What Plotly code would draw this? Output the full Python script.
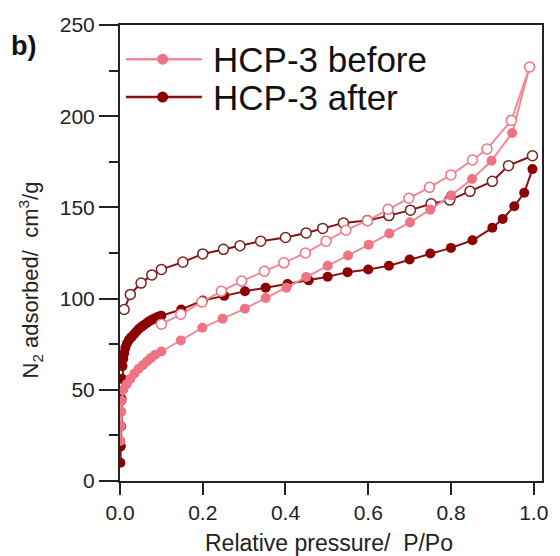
import plotly.graph_objects as go

# ---------------- data ----------------
before_ads_x = [0.001, 0.002, 0.003, 0.004, 0.008, 0.016, 0.025, 0.035, 0.045, 0.055, 0.065,
                0.075, 0.085, 0.1, 0.147, 0.199, 0.248, 0.302, 0.352, 0.402, 0.45, 0.502,
                0.551, 0.601, 0.651, 0.701, 0.75, 0.8, 0.851, 0.898, 0.948, 0.99]
before_ads_y = [22, 30, 38, 44, 50, 53, 56, 59, 61.5, 63.5, 65.5, 67.5, 69.2, 71, 77, 84, 89,
                94.5, 100.3, 106, 111.8, 118, 123.6, 129.5, 135.7, 141.8, 148.8, 156.6, 165.6,
                175.6, 190.8, 227]

before_des_x = [0.99, 0.946, 0.887, 0.852, 0.8, 0.748, 0.698, 0.648, 0.598, 0.546, 0.498,
                0.448, 0.396, 0.349, 0.294, 0.245, 0.198, 0.147, 0.1]
before_des_y = [227, 197.7, 182, 176, 167.8, 161, 155, 149, 142.7, 137.5, 131.5, 125, 119.6,
                115, 109.6, 104, 98.2, 91.4, 86]

after_ads_x = [0.001, 0.002, 0.003, 0.004, 0.005, 0.006, 0.008, 0.01, 0.013, 0.017, 0.022,
               0.028, 0.034, 0.04, 0.046, 0.052, 0.058, 0.064, 0.07, 0.076, 0.082, 0.088,
               0.094, 0.1, 0.148, 0.2, 0.252, 0.302, 0.352, 0.405, 0.456, 0.502, 0.55, 0.6,
               0.65, 0.7, 0.75, 0.8, 0.852, 0.9, 0.925, 0.953, 0.977, 0.997]
after_ads_y = [10, 19, 30, 45, 56, 63, 67, 70, 73, 75.5, 77.5, 79, 80.5, 82, 83.5, 84.5, 85.5,
               86.5, 87.5, 88.3, 89, 89.6, 90.2, 90.6, 94, 99, 101.5, 104, 106, 108, 110, 112,
               114.5, 116, 118, 121.4, 124.7, 127.8, 132, 138.8, 143.7, 150.6, 158, 171]

after_des_x = [0.997, 0.939, 0.9, 0.846, 0.797, 0.752, 0.702, 0.65, 0.598, 0.54, 0.49, 0.45,
               0.4, 0.34, 0.29, 0.25, 0.2, 0.152, 0.1, 0.077, 0.051, 0.025, 0.01]
after_des_y = [178.3, 172.9, 164.3, 158.8, 154, 152, 148.5, 145.5, 142.8, 141.5, 138.5, 136,
               133.5, 131.5, 129, 127, 124.5, 120, 116, 113, 108.5, 102.3, 94]

series_names = ["HCP-3 before", "HCP-3 after"]
x_ticks = [0.0, 0.2, 0.4, 0.6, 0.8, 1.0]
x_tick_labels = ["0.0", "0.2", "0.4", "0.6", "0.8", "1.0"]
y_ticks = [0, 50, 100, 150, 200, 250]

# ---------------- styles ----------------
PINK = "#EE7383"
PINK_LINE = "#F08A98"
DARK = "#8B0000"
DARK_LINE = "#8B1010"
FONT = "Liberation Sans, Arial, sans-serif"
MS = 10

fig = go.Figure()

fig.add_trace(go.Scatter(x=after_ads_x, y=after_ads_y, mode="lines+markers",
                         line=dict(color=DARK_LINE, width=2),
                         marker=dict(symbol="circle", size=MS, color=DARK,
                                     line=dict(width=0)),
                         name=series_names[1], showlegend=False))
fig.add_trace(go.Scatter(x=after_des_x, y=after_des_y, mode="lines+markers",
                         line=dict(color=DARK_LINE, width=2),
                         marker=dict(symbol="circle", size=MS, color="white",
                                     line=dict(width=1.5, color="#7A2222")),
                         showlegend=False))
fig.add_trace(go.Scatter(x=before_ads_x, y=before_ads_y, mode="lines+markers",
                         line=dict(color=PINK_LINE, width=2),
                         marker=dict(symbol="circle", size=MS, color=PINK,
                                     line=dict(width=0)),
                         name=series_names[0], showlegend=False))
fig.add_trace(go.Scatter(x=before_des_x, y=before_des_y, mode="lines+markers",
                         line=dict(color=PINK_LINE, width=2),
                         marker=dict(symbol="circle", size=MS, color="white",
                                     line=dict(width=1.5, color=PINK)),
                         showlegend=False))

# ---------------- custom legend (long sample lines) ----------------
shapes = []
annotations = []
leg_y = [0.925, 0.842]
leg_cols = [(PINK_LINE, PINK), (DARK_LINE, DARK)]
for i, name in enumerate(series_names):
    lc, mc = leg_cols[i]
    shapes.append(dict(type="line", xref="paper", yref="paper", x0=0.014, x1=0.194,
                       y0=leg_y[i], y1=leg_y[i], line=dict(color=lc, width=2.5)))
    shapes.append(dict(type="circle", xref="paper", yref="paper", xsizemode="pixel",
                       ysizemode="pixel", xanchor=0.101, yanchor=leg_y[i],
                       x0=-5.5, x1=5.5, y0=-5.5, y1=5.5,
                       fillcolor=mc, line=dict(color=mc, width=0)))
    annotations.append(dict(text=name, xref="paper", yref="paper", x=0.216, y=leg_y[i],
                            xanchor="left", yanchor="middle", showarrow=False,
                            font=dict(family=FONT, size=35, color="#111")))

annotations.append(dict(text="<b>b)</b>", xref="paper", yref="paper", x=-0.228, y=0.955,
                        xanchor="center", yanchor="middle", showarrow=False,
                        font=dict(family=FONT, size=27, color="#111")))
annotations.append(dict(text="N<sub>2</sub> adsorbed/&nbsp; cm<sup>3</sup>/g",
                        xref="paper", yref="paper", x=-0.213, y=0.44, textangle=-90,
                        xanchor="center", yanchor="middle", showarrow=False,
                        font=dict(family=FONT, size=22, color="#222")))
annotations.append(dict(text="Relative pressure/&nbsp; P/Po",
                        xref="paper", yref="paper", x=0.495, y=-0.136,
                        xanchor="center", yanchor="middle", showarrow=False,
                        font=dict(family=FONT, size=23, color="#222")))

axis_common = dict(showline=True, linecolor="#222", linewidth=2, mirror=True,
                   ticks="outside", tickcolor="#222", tickwidth=2,
                   showgrid=False, zeroline=False,
                   tickfont=dict(family=FONT, size=21, color="#222"))

fig.update_layout(
    width=560, height=556,
    margin=dict(l=120, r=12, t=25, b=75, pad=0),
    paper_bgcolor="white", plot_bgcolor="white",
    showlegend=False,
    xaxis=dict(range=[0, 1.02], tickvals=x_ticks, ticktext=x_tick_labels, ticklen=12,
               **axis_common),
    yaxis=dict(range=[0, 250], tickvals=y_ticks, ticklen=19,
               minor=dict(ticks="outside", ticklen=9, tickwidth=2, tickcolor="#222",
                          dtick=25, tick0=0),
               **axis_common),
    shapes=shapes,
    annotations=annotations,
)

fig.write_html("out.html")
